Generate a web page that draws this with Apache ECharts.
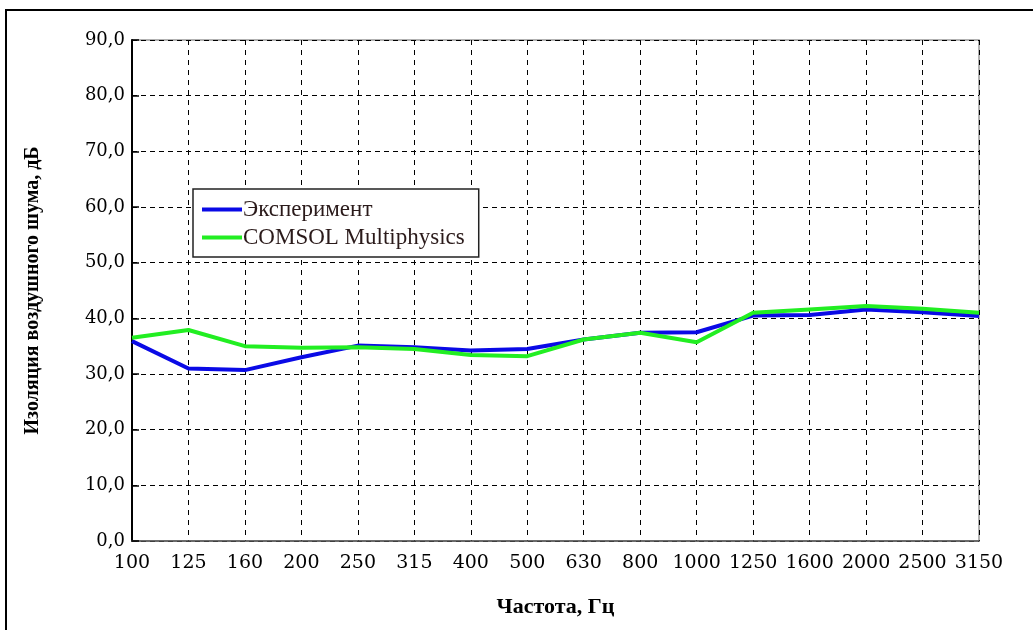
<!DOCTYPE html>
<html>
<head>
<meta charset="utf-8">
<script src="https://cdn.jsdelivr.net/npm/echarts@6/dist/echarts.min.js"></script>
<style>
  html, body { margin: 0; padding: 0; background: #fff; }
  #frame { position: absolute; left: 5px; top: 9px; width: 1040px; height: 640px;
           border-left: 2px solid #000; border-top: 2px solid #000; }
  #chart { position: absolute; left: 0; top: 0; width: 1033px; height: 630px; }
</style>
</head>
<body>
<div id="frame"></div>
<div id="chart"></div>
<script>
// Octave-band frequencies, Hz
const frequencies = ['100', '125', '160', '200', '250', '315', '400', '500', '630',
                     '800', '1000', '1250', '1600', '2000', '2500', '3150'];
// Measured airborne sound insulation, dB
const experiment = [35.9, 31.0, 30.7, 33.0, 35.1, 34.8, 34.2, 34.5, 36.2,
                    37.4, 37.5, 40.5, 40.6, 41.6, 41.1, 40.4];
// Simulated airborne sound insulation, dB
const comsol = [36.5, 37.9, 35.0, 34.7, 34.8, 34.5, 33.4, 33.2, 36.2,
                37.4, 35.7, 41.0, 41.6, 42.2, 41.7, 41.0];
const seriesNames = ['Эксперимент', 'COMSOL Multiphysics'];

const serif = '"Liberation Serif", "DejaVu Serif", serif';
const wideSerif = '"DejaVu Serif", "Liberation Serif", serif';
const chart = echarts.init(document.getElementById('chart'));

chart.setOption({
  backgroundColor: 'transparent',
  animation: false,
  textStyle: { fontFamily: serif, color: '#000' },
  grid: {
    left: 132, right: 54, top: 40, bottom: 89,
    show: true, borderColor: '#999', borderWidth: 1.5
  },
  legend: {
    left: 193, top: 189,
    orient: 'vertical',
    itemWidth: 40, itemHeight: 4, itemGap: 5,
    padding: [9, 14, 8, 9],
    backgroundColor: '#fff',
    borderColor: '#222', borderWidth: 1.5,
    icon: 'rect',
    textStyle: { fontFamily: serif, fontSize: 23, color: '#2a1a1a', padding: [0, 0, 0, -4] },
    data: seriesNames
  },
  xAxis: {
    type: 'category',
    boundaryGap: false,
    data: frequencies,
    name: 'Частота, Гц',
    nameLocation: 'middle',
    nameGap: 55,
    nameTextStyle: { fontFamily: serif, fontSize: 22, fontWeight: 'bold', color: '#000' },
    axisLine: { lineStyle: { color: '#555', width: 1.5 } },
    axisTick: { show: false },
    axisLabel: {
      fontFamily: wideSerif, fontSize: 19, color: '#000', margin: 13,
      interval: 0, hideOverlap: false
    },
    splitLine: { show: true, interval: 0, lineStyle: { color: '#000', type: [5, 5], width: 1 } }
  },
  yAxis: {
    type: 'value',
    min: 0, max: 90, interval: 10,
    name: 'Изоляция воздушного шума, дБ',
    nameLocation: 'middle',
    nameGap: 89,
    nameRotate: 90,
    nameTextStyle: { fontFamily: serif, fontSize: 20, fontWeight: 'bold', color: '#000' },
    axisLine: { show: true, lineStyle: { color: '#000', width: 2 } },
    axisTick: { show: true, inside: true, length: 7, lineStyle: { color: '#000', width: 1.5 } },
    axisLabel: {
      fontFamily: wideSerif, fontSize: 18, color: '#000', margin: 7,
      formatter: v => v.toFixed(1).replace('.', ',')
    },
    splitLine: { show: true, lineStyle: { color: '#000', type: [5, 4], width: 1 } }
  },
  series: [
    {
      name: seriesNames[0], type: 'line', data: experiment,
      symbol: 'none', color: '#0a0ae6',
      lineStyle: { width: 4, color: '#0a0ae6' }
    },
    {
      name: seriesNames[1], type: 'line', data: comsol,
      symbol: 'none', color: '#22ee22',
      lineStyle: { width: 4, color: '#22ee22' }
    }
  ]
});
</script>
</body>
</html>
